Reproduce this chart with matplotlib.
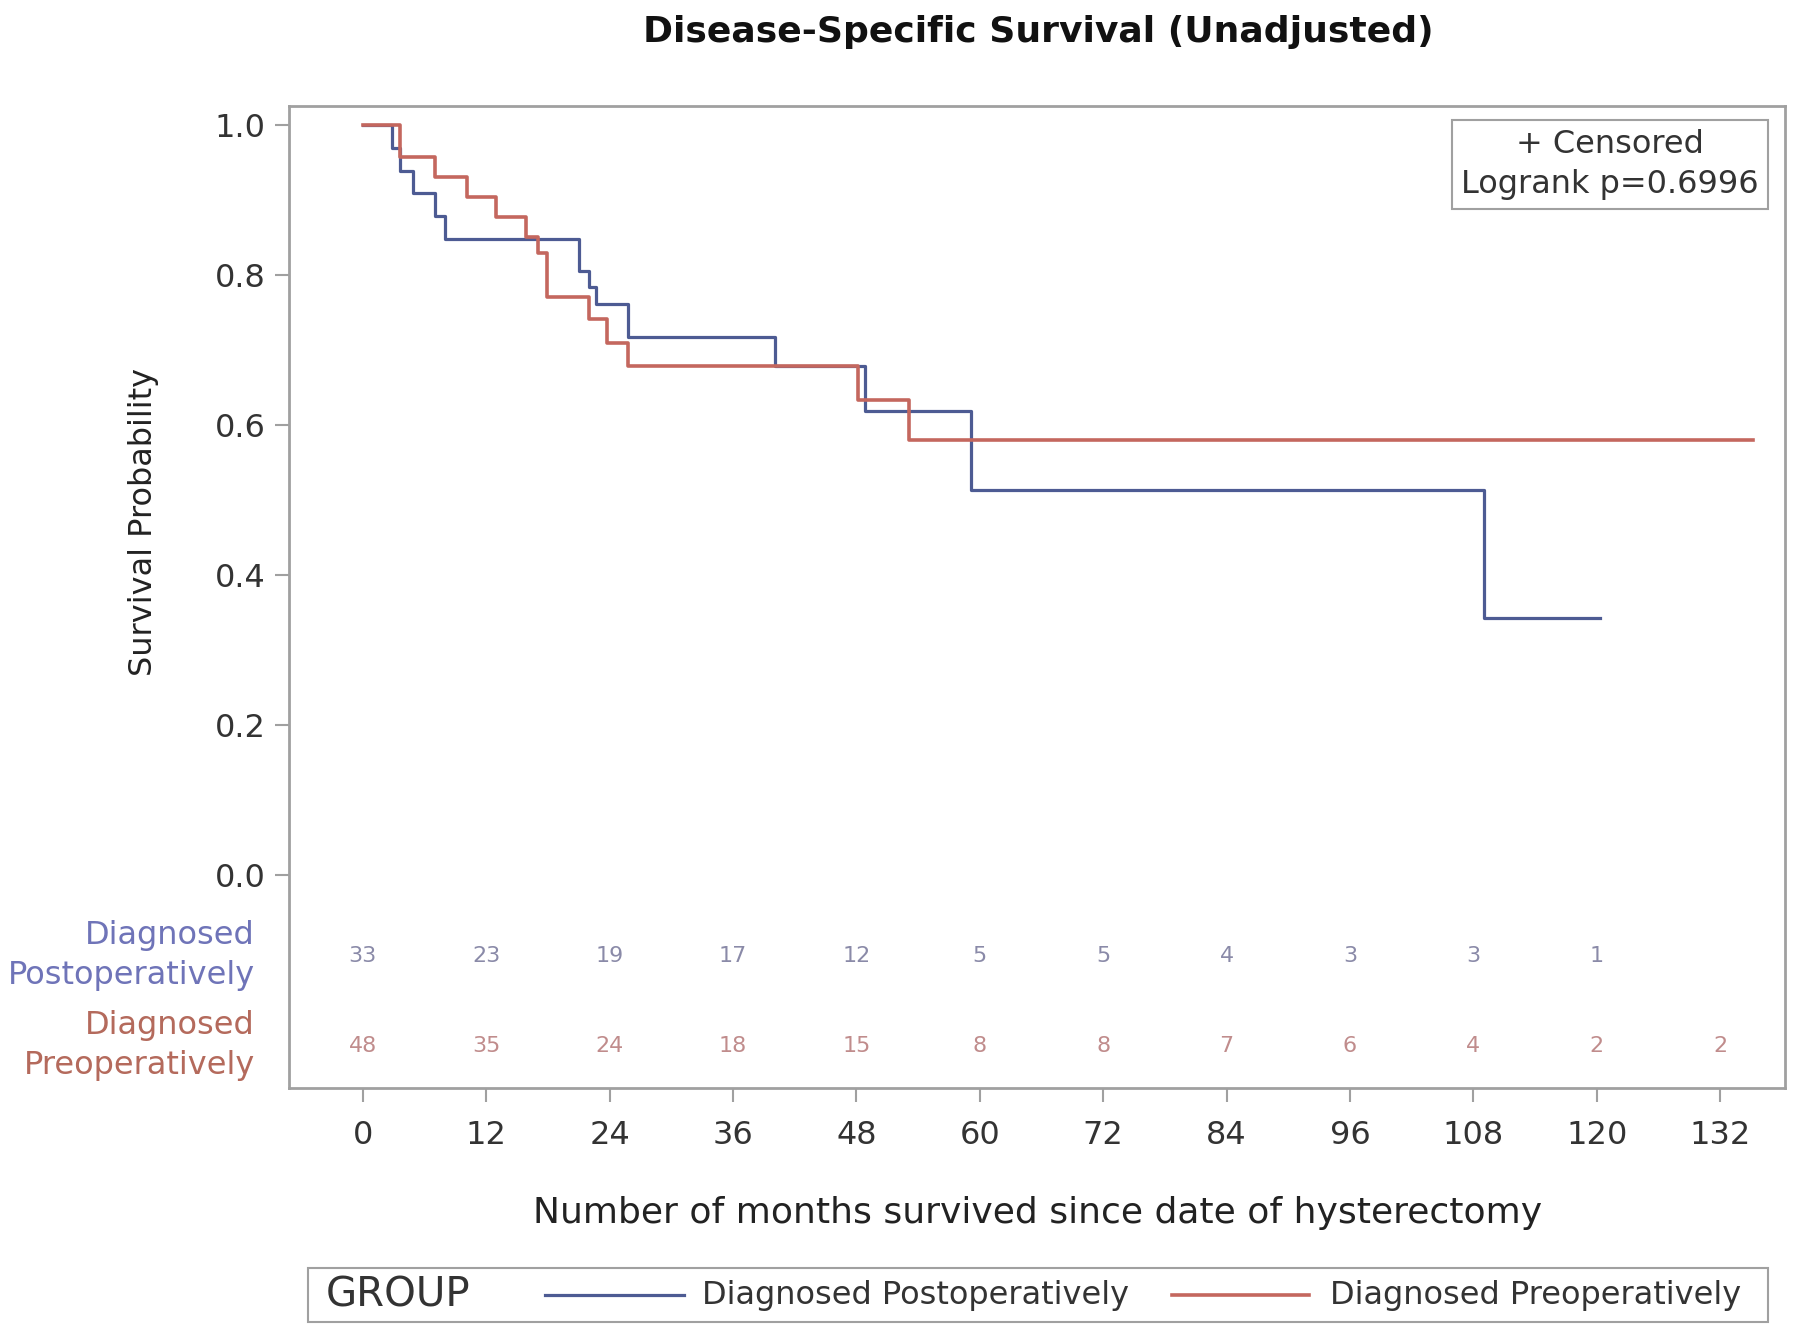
import matplotlib
matplotlib.use("Agg")
import matplotlib.pyplot as plt
from matplotlib.lines import Line2D
from matplotlib.patches import Rectangle

# ── Data ───────────────────────────────────────────────────────────────────────
post_t = [0, 2.8, 3.6, 4.9, 7.0, 8.0, 21.0, 22.0, 22.7, 25.8, 40.1, 48.8, 59.1, 109.0, 120.3]
post_s = [1.0, 0.970, 0.939, 0.909, 0.879, 0.848, 0.806, 0.784, 0.762, 0.718, 0.678, 0.618, 0.513, 0.342, 0.342]

pre_t = [0, 3.6, 7.0, 10.1, 13.0, 15.9, 17.0, 17.9, 22.0, 23.7, 25.8, 48.2, 53.1, 135.2]
pre_s = [1.0, 0.958, 0.931, 0.904, 0.877, 0.851, 0.829, 0.771, 0.742, 0.709, 0.678, 0.633, 0.580, 0.580]

risk_times = [0, 12, 24, 36, 48, 60, 72, 84, 96, 108, 120, 132]
post_risk = [33, 23, 19, 17, 12, 5, 5, 4, 3, 3, 1]
pre_risk = [48, 35, 24, 18, 15, 8, 8, 7, 6, 4, 2, 2]

y_ticks = [0.0, 0.2, 0.4, 0.6, 0.8, 1.0]
groups = ["Diagnosed Postoperatively", "Diagnosed Preoperatively"]

BLUE = "#4d5b93"
RED = "#c4675e"
FRAME = "#a0a0a0"
TXT = "#333333"

plt.rcParams["font.family"] = ["DejaVu Sans"]

fig = plt.figure(figsize=(18, 13.39), dpi=100)
ax = fig.add_axes([0.1607, 0.1872, 0.831, 0.7339])

ax.step(post_t, post_s, where="post", color=BLUE, lw=2.3)
ax.step(pre_t, pre_s, where="post", color=RED, lw=2.6)

ax.set_xlim(-7.15, 138.3)
ax.set_ylim(-0.285, 1.026)
ax.set_xticks(risk_times)
ax.set_xticklabels([str(t) for t in risk_times])
ax.set_yticks(y_ticks)
ax.set_yticklabels([f"{v:.1f}" for v in y_ticks])
ax.tick_params(axis="both", direction="out", length=10, width=1.5,
               color=FRAME, labelcolor=TXT, labelsize=23, pad=7)
ax.tick_params(axis="x", pad=13)
for sp in ax.spines.values():
    sp.set_color(FRAME)
    sp.set_linewidth(2)

ax.set_xlabel("Number of months survived since date of hysterectomy",
              fontsize=26, color="#222222", labelpad=32)
ax.set_ylabel("Survival Probability", fontsize=23, color="#222222")
ax.yaxis.set_label_coords(-0.087, 0.576)

# risk table inside the frame
for t, n in zip(risk_times, post_risk):
    ax.text(t, -0.108, str(n), ha="center", va="center", fontsize=16, color="#8a8aa8")
for t, n in zip(risk_times, pre_risk):
    ax.text(t, -0.228, str(n), ha="center", va="center", fontsize=16, color="#c08c8c")

ax.text(-0.023, -0.108, "Diagnosed\nPostoperatively", transform=ax.get_yaxis_transform(),
        ha="right", va="center", fontsize=23, color="#6f74b8", linespacing=1.4)
ax.text(-0.023, -0.228, "Diagnosed\nPreoperatively", transform=ax.get_yaxis_transform(),
        ha="right", va="center", fontsize=23, color="#b46a5c", linespacing=1.4)

# inset
ax.text(0.883, 0.940, "+ Censored\nLogrank p=0.6996", transform=ax.transAxes,
        ha="center", va="center", fontsize=23, color=TXT, linespacing=1.35,
        bbox=dict(boxstyle="square,pad=0.3", fc="white", ec=FRAME, lw=1.5))

fig.text(0.577, 0.976, "Disease-Specific Survival (Unadjusted)", ha="center", va="center",
         fontsize=26, fontweight="bold", color="#111111")

# bottom legend
fig.patches.append(Rectangle((0.171, 0.0127), 0.811, 0.0403, transform=fig.transFigure,
                             fc="white", ec=FRAME, lw=1.5))
leg_y = 0.0325
fig.text(0.181, leg_y, "GROUP", ha="left", va="center", fontsize=29, color="#333333")
fig.lines.append(Line2D([0.303, 0.380], [leg_y, leg_y], transform=fig.transFigure,
                        color=BLUE, lw=2.3))
fig.text(0.390, leg_y, groups[0], ha="left", va="center", fontsize=23, color="#333333")
fig.lines.append(Line2D([0.651, 0.727], [leg_y, leg_y], transform=fig.transFigure,
                        color=RED, lw=2.6))
fig.text(0.739, leg_y, groups[1], ha="left", va="center", fontsize=23, color="#333333")

fig.savefig("out.png", dpi=100, facecolor="white")
